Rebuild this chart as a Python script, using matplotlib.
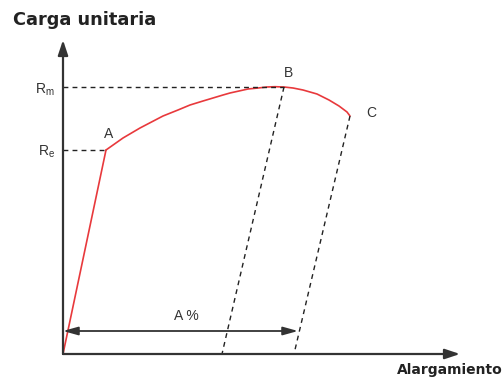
"""Diagrama esfuerzo-deformación (carga unitaria vs alargamiento)."""

import matplotlib.pyplot as plt

# curva del ensayo (alargamiento, carga) en unidades del dibujo
elastic_x = [0, 43]
elastic_y = [0, 204]
plastic_x = [43, 60, 77, 100, 115, 127, 140, 150, 160, 167, 176, 185, 195, 204,
             212, 221, 230, 240, 247, 254, 260, 266, 271, 276, 280, 284, 287]
plastic_y = [204, 216, 226, 238, 244, 249, 253, 256, 259, 261, 263, 265, 266, 267,
             267.3, 267, 266, 264, 262, 260, 257, 254, 251, 248, 245, 242, 238]

points = {"A": (43, 204), "B": (221, 267), "C": (287, 238)}
r_e = 204
r_m = 267
foot_b = 159   # alargamiento remanente desde B
foot_c = 231   # alargamiento remanente desde C
a_pct_end = 235
a_pct_y = 23

x_max = 397
y_max = 314

RED = "#e8393c"
DARK = "#333333"


def main() -> None:
    plt.rcParams["font.family"] = ["Liberation Sans", "DejaVu Sans"]
    fig = plt.figure(figsize=(5.03, 3.82), dpi=100)
    ax = fig.add_axes([0, 0, 1, 1])
    ax.set_xlim(-63, 440)
    ax.set_ylim(-28, 354)
    ax.axis("off")

    # ejes con flechas
    arrow = dict(arrowstyle="-|>,head_length=0.9,head_width=0.3", color=DARK, lw=1.6,
                 shrinkA=0, shrinkB=0)
    ax.annotate("", xy=(x_max, 0), xytext=(0, 0), arrowprops=arrow)
    ax.annotate("", xy=(0, y_max), xytext=(0, 0), arrowprops=arrow)

    # curva
    ax.plot(elastic_x, elastic_y, color=RED, lw=1.2, solid_capstyle="round")
    ax.plot(plastic_x, plastic_y, color=RED, lw=1.2, solid_capstyle="round",
            solid_joinstyle="round")

    # líneas auxiliares
    dash = dict(color="#222222", lw=1.0, linestyle=(0, (3.5, 3)))
    ax.plot([0, points["A"][0]], [r_e, r_e], **dash)
    ax.plot([0, points["B"][0]], [r_m, r_m], **dash)
    ax.plot([points["B"][0], foot_b], [points["B"][1], 0], **dash)
    ax.plot([points["C"][0], foot_c], [points["C"][1], 0], **dash)

    # flecha A %
    ax.annotate("", xy=(a_pct_end, a_pct_y), xytext=(0, a_pct_y),
                arrowprops=dict(arrowstyle="<|-|>,head_length=0.9,head_width=0.25",
                                color=DARK, lw=1.3, shrinkA=0, shrinkB=0))
    ax.text(123, a_pct_y + 8, "A %", fontsize=10, ha="center", va="bottom", color=DARK)

    # etiquetas de puntos
    ax.text(points["A"][0] + 3, points["A"][1] + 9, "A", fontsize=10, ha="center",
            va="bottom", color=DARK)
    ax.text(points["B"][0] + 5, points["B"][1] + 7, "B", fontsize=10, ha="center",
            va="bottom", color=DARK)
    ax.text(points["C"][0] + 16, points["C"][1] + 3, "C", fontsize=10, ha="left",
            va="center", color=DARK)

    ax.text(-8, r_m - 3, r"R$_\mathregular{m}$", fontsize=10, ha="right", va="center", color=DARK)
    ax.text(-8, r_e - 2, r"R$_\mathregular{e}$", fontsize=10, ha="right", va="center", color=DARK)

    ax.text(-50, 334, "Carga unitaria", fontsize=12.8, fontweight="bold", ha="left",
            va="center", color="#222222", family="DejaVu Sans")
    ax.text(334, -16, "Alargamiento", fontsize=10, fontweight="bold", ha="left",
            va="center", color="#222222", family="DejaVu Sans")

    fig.savefig("out.png", dpi=100)


if __name__ == "__main__":
    main()
